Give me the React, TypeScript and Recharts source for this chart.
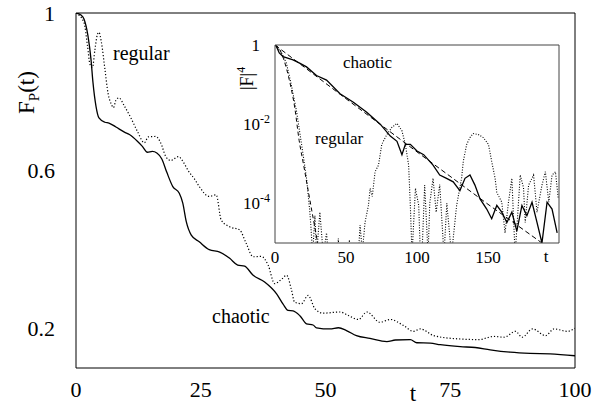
import React from 'react';
import { LineChart, Line, XAxis, YAxis } from 'recharts';

// ---- main panel: F_P(t) ----
const mainXTicks = [0, 25, 50, 75, 100];
const mainXMinor = [25, 50, 75];
const mainYLabels = [0.2, 0.6, 1];
const mainYMinor = [0.2, 0.4, 0.6, 0.8];

const mainChaotic: [number, number][] = [
  [0, 1], [1, 0.995], [1.6, 0.985], [2.4, 0.942], [3, 0.883], [3.4, 0.824], [4, 0.764], [4.6, 0.734],
  [5.8, 0.723], [6.6, 0.721], [8, 0.711], [9.7, 0.698], [10.7, 0.692], [12.3, 0.675], [13.3, 0.662],
  [14.3, 0.647], [15.3, 0.649], [16.2, 0.645], [17.2, 0.63], [18.2, 0.596], [19.4, 0.56], [20.7, 0.543],
  [21.4, 0.518], [22.1, 0.471], [23.1, 0.437], [24.7, 0.42], [26.7, 0.4], [28.8, 0.394], [30.8, 0.378],
  [32.4, 0.361], [33.8, 0.358], [35.5, 0.335], [37.8, 0.318], [40.2, 0.288], [41.5, 0.262], [42.5, 0.246],
  [43.5, 0.245], [44.9, 0.232], [46.2, 0.212], [47.5, 0.209], [48.2, 0.202], [50.9, 0.199], [52.6, 0.202],
  [54.2, 0.195], [56.2, 0.182], [58.9, 0.175], [62.3, 0.167], [64, 0.171], [67, 0.172], [68.3, 0.164],
  [71, 0.163], [73, 0.159], [77, 0.154], [80, 0.152], [83, 0.146], [87, 0.14], [91, 0.137], [95, 0.136],
  [100, 0.131],
];

const mainRegular: [number, number][] = [
  [0, 1], [1.6, 0.976], [2.3, 0.917], [2.8, 0.87], [3.3, 0.862], [3.8, 0.908], [4.3, 0.946], [4.6, 0.951],
  [5.1, 0.925], [5.8, 0.857], [6.4, 0.798], [7.1, 0.768], [7.5, 0.76], [8, 0.779], [8.6, 0.785], [9.7, 0.764],
  [11, 0.734], [12.3, 0.7], [13.7, 0.671], [14.5, 0.686], [16, 0.687], [17, 0.67], [18, 0.636], [19, 0.626],
  [20.5, 0.636], [21.7, 0.618], [22.5, 0.6], [23.7, 0.58], [24.7, 0.56], [26.7, 0.535], [28.1, 0.539],
  [29.1, 0.475], [30.8, 0.458], [32.8, 0.45], [34.1, 0.416], [35.5, 0.382], [37.1, 0.383], [38.5, 0.361],
  [39.8, 0.314], [41.2, 0.325], [42.2, 0.335], [43.2, 0.297], [43.8, 0.267], [45.2, 0.263], [46.5, 0.284],
  [47.9, 0.25], [49.5, 0.239], [52.9, 0.242], [54.6, 0.233], [56.6, 0.223], [58.3, 0.242], [60.9, 0.216],
  [63, 0.223], [65.6, 0.208], [67.6, 0.193], [69, 0.199], [71.7, 0.182], [76.4, 0.174], [80.7, 0.172],
  [83.7, 0.18], [85.8, 0.178], [88.1, 0.193], [89.4, 0.178], [91.5, 0.199], [94.1, 0.182], [95.8, 0.199],
  [98.5, 0.193], [100, 0.201],
];

// ---- inset: |F|^4 on log scale ----
const insetXTicks = [0, 50, 100, 150];
const insetXMinor = [50, 100, 150];
const insetYLabels = [1, 1e-2, 1e-4];
const insetYMinor = [1e-1, 1e-2, 1e-3, 1e-4];

const insetChaotic: [number, number][] = [
  [0, 1], [0.9, 0.93], [3, 0.63], [5.7, 0.51], [12.7, 0.42], [17, 0.355], [22.2, 0.28], [29.2, 0.17],
  [36.3, 0.13], [45.8, 0.059], [55.2, 0.036], [64.6, 0.02], [74.1, 0.01], [81.2, 0.005], [85.9, 0.0037],
  [89.4, 0.0017], [91.8, 0.0031], [95.3, 0.0031], [100, 0.0021], [104.7, 0.0017], [111.3, 9.3e-4],
  [116, 5.2e-4], [120.8, 4.3e-4], [125.5, 3.5e-4], [130.2, 2.1e-4], [133.8, 4.3e-4], [137.3, 5.2e-4],
  [140.8, 2.9e-4], [144.4, 1.3e-4], [149.1, 7.2e-5], [152.6, 4.1e-5], [156.2, 8.9e-5], [159.7, 6e-5],
  [163.3, 3.3e-5], [166.8, 6e-5], [170.3, 2e-5], [173.9, 8.9e-5], [177.4, 4.9e-5], [181, 1.07e-4],
  [184.5, 3.3e-5], [188, 1e-5], [191.6, 1.07e-4], [195.1, 7.2e-5], [198.7, 1.8e-5],
];

const insetChaoticFit: [number, number][] = [
  [0, 1], [50, 0.044], [100, 0.002], [150, 9.5e-5], [188, 1e-5], [200, 4.5e-6],
];

const insetRegularFit: [number, number][] = [
  [0, 1], [3, 0.8], [6, 0.45], [10, 0.135], [14, 0.025], [17, 0.0039], [20, 1e-3], [23, 2.5e-4],
  [26, 6.3e-5], [29, 1.6e-5], [31, 6e-6],
];

const insetRegular: [number, number][] = [
  [0, 1], [4, 0.7], [8, 0.35], [11, 0.12], [15.1, 0.022], [19.8, 0.0017], [22.2, 4.3e-4], [23.4, 1.6e-4],
  [24.5, 6.3e-5], [25.5, 2e-5], [26.5, 5e-6], [28.1, 4.9e-5], [29.3, 5e-6], [31.6, 6e-5], [34, 5e-6],
  [36.3, 1.8e-5], [37.5, 5e-6], [44, 5e-6], [44.6, 1.3e-5], [45.2, 5e-6], [51.8, 5e-6], [52.4, 1.2e-5],
  [53, 5e-6], [58.7, 5e-6], [59.9, 2.8e-5], [61.5, 6e-6], [63.4, 3.3e-5], [65.8, 8.9e-5], [67, 2.4e-4],
  [68.5, 1.5e-4], [70.5, 6.3e-4], [72.9, 9.3e-4], [75.2, 3.1e-3], [78.8, 5.5e-3], [82.3, 8.3e-3],
  [85.9, 1.05e-2], [89.4, 6.8e-3], [91.8, 3.1e-3], [94.1, 9.3e-4], [95.3, 8.9e-5], [96.5, 5e-6],
  [98.9, 2.4e-4], [101.2, 8.9e-5], [102.4, 5e-6], [103.5, 5e-6], [105.4, 2.9e-4], [107.8, 5e-6],
  [109, 1e-4], [111.3, 4.3e-4], [113.5, 6e-5], [116, 3e-4], [119, 5e-6], [121, 1e-4], [124.3, 5e-6],
  [127.9, 8.9e-5], [131.4, 4.3e-4], [132.6, 1.15e-3], [135, 3.1e-3], [137.3, 4.6e-3], [139.6, 5.8e-3],
  [143.2, 5.5e-3], [146.7, 4.6e-3], [150.3, 3.1e-3], [152.6, 1.15e-3], [155, 4.3e-4], [156.2, 1.9e-4],
  [159.7, 1.07e-4], [162, 1.8e-5], [164.4, 1.07e-4], [166.8, 4.3e-4], [169.1, 5e-6], [172.7, 5.2e-4],
  [175, 2.5e-4], [176.2, 3.3e-5], [178.6, 2.9e-4], [182.1, 5.2e-4], [184.5, 6e-5], [188, 2.9e-4],
  [190.4, 6.3e-4], [192.8, 1.07e-4], [195.1, 5.2e-4], [197.5, 6.3e-4], [199.5, 1.3e-4],
];

const toRows = (pairs: [number, number][]) => pairs.map(([t, v]) => ({ t, v }));

const FONT = 'Liberation Serif';

const txt = (size: number) => ({ fontFamily: FONT, fontSize: size, fill: '#000' });

const MainXTick = (props: any) => {
  const { x, y, payload } = props;
  return (
    <text x={x} y={y} dy="0.72em" textAnchor="middle" fontFamily={FONT} style={txt(22)}>
      {String(payload.value)}
    </text>
  );
};

const MainYTick = (props: any) => {
  const { x, y, payload } = props;
  return (
    <text x={x} y={y} dy="0.35em" textAnchor="end" fontFamily={FONT} style={txt(22)}>
      {String(payload.value)}
    </text>
  );
};

const InsetXTick = (props: any) => {
  const { x, y, payload } = props;
  return (
    <text x={x} y={y} dy="0.72em" textAnchor="middle" fontFamily={FONT} style={txt(17)}>
      {String(payload.value)}
    </text>
  );
};

const InsetYTick = (props: any) => {
  const { x, y, payload } = props;
  const v = payload.value;
  if (v >= 1) {
    return (
      <text x={x - 10} y={y} dy="0.35em" textAnchor="end" fontFamily={FONT} style={txt(17)}>
        1
      </text>
    );
  }
  const e = Math.round(Math.log10(v));
  return (
    <text x={x} y={y} dy="0.35em" textAnchor="end" fontFamily={FONT} style={txt(17)}>
      10<tspan dy={-7} style={{ fontSize: 12 }}>{e}</tspan>
    </text>
  );
};

export default function App() {
  const insetStroke = '#444';
  return (
    <div style={{ position: 'absolute', left: 0, top: 0, width: 597, height: 406, background: '#fff', fontFamily: FONT }}>
      <div style={{ position: 'absolute', left: 0, top: 0 }}>
        <LineChart width={597} height={406} margin={{ top: 13, right: 22, bottom: 37, left: 75 }}>
          <XAxis xAxisId="x" type="number" dataKey="t" domain={[0, 100]} ticks={mainXTicks} allowDataOverflow
            height={1} tickLine={false} tickSize={0} tickMargin={13} axisLine={{ stroke: '#000' }} tick={<MainXTick />} interval={0} />
          <XAxis xAxisId="xb" type="number" dataKey="t" domain={[0, 100]} ticks={mainXMinor} allowDataOverflow
            height={1} mirror tick={false} tickSize={5} axisLine={false} tickLine={{ stroke: '#000' }} interval={0} />
          <XAxis xAxisId="xt" orientation="top" type="number" dataKey="t" domain={[0, 100]} ticks={mainXMinor} allowDataOverflow
            height={1} mirror tick={false} tickSize={5} axisLine={{ stroke: '#000' }} tickLine={{ stroke: '#000' }} interval={0} />
          <YAxis yAxisId="y" type="number" domain={[0.1, 1]} ticks={mainYLabels} allowDataOverflow width={1}
            tickLine={false} tickSize={0} tickMargin={21} axisLine={{ stroke: '#000' }} tick={<MainYTick />} interval={0} />
          <YAxis yAxisId="yl" type="number" domain={[0.1, 1]} ticks={mainYMinor} allowDataOverflow width={1}
            mirror tick={false} tickSize={5} axisLine={false} tickLine={{ stroke: '#000' }} interval={0} />
          <YAxis yAxisId="yr" orientation="right" type="number" domain={[0.1, 1]} ticks={mainYMinor} allowDataOverflow width={1}
            mirror tick={false} tickSize={5} axisLine={{ stroke: '#000' }} tickLine={{ stroke: '#000' }} interval={0} />
          <Line xAxisId="x" yAxisId="y" data={toRows(mainRegular)} dataKey="v" type="monotone" dot={false}
            stroke="#000" strokeWidth={1.2} strokeDasharray="1.2 2" isAnimationActive={false} />
          <Line xAxisId="x" yAxisId="y" data={toRows(mainChaotic)} dataKey="v" type="monotone" dot={false}
            stroke="#000" strokeWidth={1.3} isAnimationActive={false} />
        </LineChart>
      </div>
      <div style={{ position: 'absolute', left: 276, top: 46, width: 282, height: 196, background: '#fff' }} />
      <div style={{ position: 'absolute', left: 236, top: 30 }}>
        <LineChart width={340} height={250} margin={{ top: 15, right: 17, bottom: 36, left: 38 }}>
          <XAxis xAxisId="x" type="number" dataKey="t" domain={[0, 200]} ticks={insetXTicks} allowDataOverflow
            height={1} tickLine={false} tickSize={0} tickMargin={8} axisLine={{ stroke: insetStroke }} tick={<InsetXTick />} interval={0} />
          <XAxis xAxisId="xb" type="number" dataKey="t" domain={[0, 200]} ticks={insetXMinor} allowDataOverflow
            height={1} mirror tick={false} tickSize={4} axisLine={false} tickLine={{ stroke: insetStroke }} interval={0} />
          <XAxis xAxisId="xt" orientation="top" type="number" dataKey="t" domain={[0, 200]} ticks={insetXMinor} allowDataOverflow
            height={1} mirror tick={false} tickSize={4} axisLine={{ stroke: insetStroke }} tickLine={{ stroke: insetStroke }} interval={0} />
          <YAxis yAxisId="y" type="number" scale="log" domain={[1e-5, 1]} ticks={insetYLabels} allowDataOverflow width={1}
            tickLine={false} tickSize={0} tickMargin={5} axisLine={{ stroke: insetStroke }} tick={<InsetYTick />} interval={0} />
          <YAxis yAxisId="yl" type="number" scale="log" domain={[1e-5, 1]} ticks={insetYMinor} allowDataOverflow width={1}
            mirror tick={false} tickSize={4} axisLine={false} tickLine={{ stroke: insetStroke }} interval={0} />
          <YAxis yAxisId="yr" orientation="right" type="number" scale="log" domain={[1e-5, 1]} ticks={insetYMinor} allowDataOverflow width={1}
            mirror tick={false} tickSize={4} axisLine={{ stroke: insetStroke }} tickLine={{ stroke: insetStroke }} interval={0} />
          <Line xAxisId="x" yAxisId="y" data={toRows(insetRegular)} dataKey="v" type="linear" dot={false}
            stroke="#000" strokeWidth={1.1} strokeDasharray="1 1.6" isAnimationActive={false} />
          <Line xAxisId="x" yAxisId="y" data={toRows(insetRegularFit)} dataKey="v" type="monotone" dot={false}
            stroke="#000" strokeWidth={1} strokeDasharray="4 3" isAnimationActive={false} />
          <Line xAxisId="x" yAxisId="y" data={toRows(insetChaoticFit)} dataKey="v" type="linear" dot={false}
            stroke="#000" strokeWidth={1} strokeDasharray="5 3" isAnimationActive={false} />
          <Line xAxisId="x" yAxisId="y" data={toRows(insetChaotic)} dataKey="v" type="linear" dot={false}
            stroke="#000" strokeWidth={1.3} isAnimationActive={false} />
        </LineChart>
      </div>
      <svg width={597} height={406} style={{ position: 'absolute', left: 0, top: 0, pointerEvents: 'none', fontFamily: FONT }}
        fill="#000">
        <text transform="translate(34,114) rotate(-90)" fontSize={23}>
          F<tspan fontSize={15} dy={5}>P</tspan><tspan dy={-5}>(t)</tspan>
        </text>
        <text x={413} y={401} fontSize={23} textAnchor="middle">t</text>
        <text x={113} y={60} fontSize={20}>regular</text>
        <text x={212} y={323} fontSize={20}>chaotic</text>
        <text transform="translate(253,90) rotate(-90)" fontSize={18}>
          |F|<tspan fontSize={12} dy={-8}>4</tspan>
        </text>
        <text x={343} y={68} fontSize={17}>chaotic</text>
        <text x={315} y={144} fontSize={17}>regular</text>
        <text x={546} y={262} fontSize={17} textAnchor="middle">t</text>
      </svg>
    </div>
  );
}
